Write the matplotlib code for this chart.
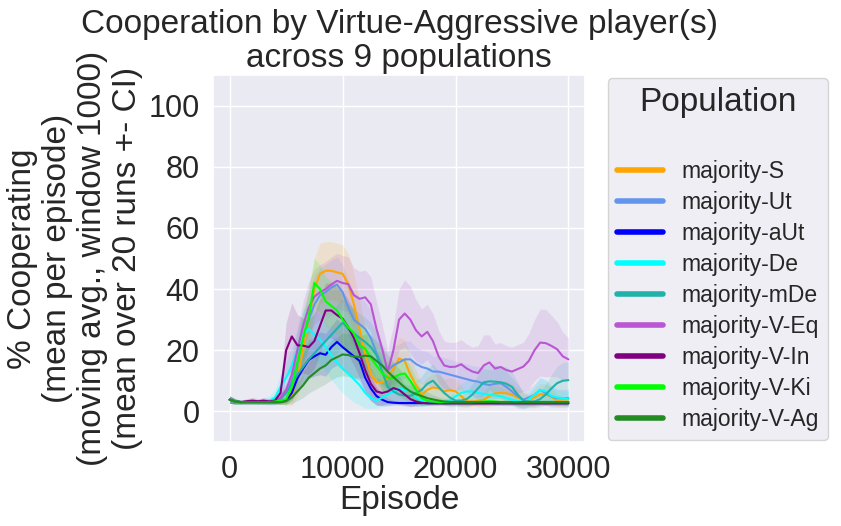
import numpy as np
import matplotlib
matplotlib.use('Agg')
import matplotlib.pyplot as plt
import seaborn as sns

# episodes sampled every 500
episodes = np.arange(0, 30001, 500)

populations = ['majority-S', 'majority-Ut', 'majority-aUt', 'majority-De', 'majority-mDe',
               'majority-V-Eq', 'majority-V-In', 'majority-V-Ki', 'majority-V-Ag']
colors = ['orange', 'cornflowerblue', 'blue', 'cyan', 'lightseagreen',
          'mediumorchid', 'purple', 'lime', 'forestgreen']

# mean % cooperating
coop_S = [3.8, 3.2, 3.0, 3.0, 3.0, 2.9, 2.9, 2.9, 3.0, 3.0,
          3.3, 5.0, 11, 20, 30, 40, 45, 46, 46, 45.5,
          45, 41.6, 35, 27, 19, 12, 9.5, 9.5, 11, 14,
          17.3, 16.5, 12, 8.6, 5.4, 7, 7.8, 7.5, 6.5, 7,
          6.5, 5, 3.3, 3.2, 3.4, 3.8, 5, 5.9, 6, 5.9,
          5.5, 4.5, 3.8, 3.6, 4.5, 5.6, 5.5, 4.8, 3.5, 3.2,
          3.2]
coop_Ut = [3.8, 3.2, 3.0, 3.0, 3.0, 3.0, 3.0, 3.0, 3.2, 4.0,
           6, 10, 16, 24, 30, 35, 38, 39, 40.5, 41.5,
           39, 34, 30, 28.5, 27, 24, 19, 15, 13.5, 15,
           16, 17, 17, 15.5, 14.5, 14, 13, 13, 12.5, 12,
           11.5, 11, 10.5, 10, 9.7, 9, 8.6, 9, 9.2, 8,
           6.5, 5, 3.8, 4.5, 5.4, 7, 6, 4.8, 4.3, 4.2,
           4.3]
coop_aUt = [3.8, 3.2, 3.0, 3.0, 3.0, 3.0, 3.0, 3.0, 3.0, 3.0,
            3.5, 6, 10.8, 14, 16.8, 18, 19, 18.5, 21, 22.7,
            21, 19.5, 18, 16.5, 11, 7.5, 5, 3.8, 3.0, 2.8,
            2.7, 2.7, 2.7, 2.7, 2.7, 2.7, 2.7, 2.7, 2.7, 2.7,
            2.7, 2.7, 2.7, 2.7, 2.7, 2.7, 2.7, 2.7, 2.7, 2.7,
            2.7, 2.7, 2.7, 2.7, 2.7, 2.7, 2.7, 2.7, 2.7, 2.7,
            2.7]
coop_De = [3.8, 3.2, 3.0, 3.0, 3.0, 3.0, 3.3, 3.5, 4.5, 8,
           11, 15, 20, 25, 27, 25, 23.5, 21, 18.4, 16,
           14, 12.3, 10.5, 8.6, 6, 4.5, 3.5, 4.5, 5.5, 6.5,
           7.6, 7, 6.5, 4.5, 3.5, 3.2, 3, 3, 3, 3.5,
           4.9, 6, 6.5, 6.5, 6, 5.7, 5.4, 5.2, 4.9, 4.3,
           3.8, 3.3, 3, 4, 5.4, 7, 6.5, 5, 4.5, 4.3,
           4]
coop_mDe = [3.8, 3.2, 3.0, 3.0, 3.0, 3.0, 3.0, 3.0, 3.2, 4,
            6, 9, 12, 14.5, 17, 19, 21, 23, 25, 27,
            29, 27, 25.5, 24, 22.7, 21, 18.4, 13, 8, 6.5,
            5.5, 5.2, 5, 6, 7, 9, 10, 8, 6, 4.5,
            3.5, 3.5, 4, 5.5, 7.5, 9.5, 9.8, 9.7, 9.5, 9,
            8, 5.5, 3.5, 3.2, 3.2, 4, 5.5, 7.5, 9.2, 10,
            10.2]
coop_VEq = [3.8, 3.2, 3.0, 3.0, 3.0, 3.0, 3.2, 3.3, 3.5, 4.5,
            7, 12, 20, 28, 34, 37.5, 39, 40, 41.5, 42.7,
            42, 41.6, 38, 36.8, 37.3, 35, 27, 20.5, 13, 20,
            30, 32, 30, 26.5, 24.5, 26, 23, 18, 15, 14.5,
            14.6, 15.4, 14, 13, 12.5, 15, 16, 14, 14.5, 13.5,
            13, 13.8, 14.6, 16.5, 20, 22.5, 22.3, 21.4, 20.3, 18,
            17]
coop_VIn = [3.8, 3.2, 3.0, 3.3, 3.5, 3.3, 3.5, 3.2, 3.5, 6,
            20, 24.5, 21.6, 21.5, 21, 23, 28, 33, 33, 31.5,
            30.3, 27.5, 24, 19, 13.5, 9, 6.5, 6, 6.5, 7.6,
            7, 5.5, 4, 3.2, 2.8, 2.6, 2.6, 2.6, 2.6, 2.6,
            2.6, 2.6, 2.6, 2.6, 2.6, 2.6, 2.6, 2.6, 2.6, 2.6,
            2.6, 2.6, 2.6, 2.6, 2.6, 2.6, 2.6, 2.6, 2.6, 2.6,
            2.6]
coop_VKi = [3.8, 3.2, 3.0, 3.0, 3.0, 3.0, 3.0, 3.0, 3.2, 3.5,
            4, 8, 16, 24, 31, 42, 40, 36, 34.5, 33,
            30, 27.5, 25.5, 21.5, 20.5, 17.5, 15, 12.5, 11, 11,
            12, 12.4, 10, 7, 4.3, 3.4, 3.2, 3.0, 3.0, 3.0,
            3.0, 3.0, 3.0, 3.0, 3.1, 3.2, 3.3, 3.2, 3.0, 3.0,
            3.0, 3.0, 3.0, 3.0, 3.0, 3.0, 3.0, 3.0, 3.0, 3.0,
            3.0]
coop_VAg = [3.8, 3.2, 3.0, 3.0, 3.0, 3.0, 3.0, 3.0, 3.0, 3.0,
            3.3, 4.5, 6.5, 8.5, 11, 12.5, 14, 15, 16.8, 17.7,
            18.6, 18.4, 17.9, 17.8, 18.2, 18, 16.5, 15, 13, 11.2,
            9.5, 7.8, 6.5, 5.6, 5, 4.3, 3.9, 3.5, 3.2, 3.1,
            3.0, 3.0, 3.0, 3.0, 3.0, 3.0, 3.0, 3.0, 3.0, 3.0,
            3.0, 3.0, 3.0, 3.0, 3.0, 3.0, 3.0, 3.0, 3.0, 3.0,
            3.0]

# CI half widths
ci_S = [1.2, 0.8, 0.6, 0.6, 0.6, 0.6, 0.6, 0.6, 0.7, 0.8,
        1.2, 3, 6, 9, 10, 10, 10, 9.5, 9.5, 9.5,
        9.5, 10, 10, 9.5, 8.5, 7, 5.5, 5, 5.5, 6.5,
        7, 7, 6, 5, 3.5, 4, 4.5, 4.5, 4, 4,
        4, 3.5, 2, 1.5, 2, 2.5, 3.5, 4, 4, 4,
        3.5, 3, 2.5, 2, 3, 3.5, 3.5, 3, 2, 1.5,
        1.5]
ci_Ut = [1.2, 0.8, 0.6, 0.6, 0.6, 0.6, 0.6, 0.6, 0.8, 1.5,
         3, 5, 7, 8, 9, 9, 9, 9, 9, 9,
         9, 9, 9, 9, 9, 9, 8, 7, 6, 6,
         6, 6, 6, 5.5, 5.5, 5.5, 5, 5, 5, 5,
         5, 5, 5, 5, 5, 5, 5, 5, 5, 5,
         4.5, 4, 3, 3, 3.5, 4, 4, 3.5, 3, 3,
         3]
ci_aUt = [1.2, 0.8, 0.6, 0.6, 0.6, 0.6, 0.6, 0.6, 0.6, 0.7,
          1, 2.5, 4, 5, 6, 6.5, 7, 7, 7, 7.5,
          7.5, 7, 7, 6.5, 5.5, 4, 3, 2, 1.2, 0.8,
          0.6, 0.6, 0.6, 0.6, 0.6, 0.6, 0.6, 0.6, 0.6, 0.6,
          0.6, 0.6, 0.6, 0.6, 0.6, 0.6, 0.6, 0.6, 0.6, 0.6,
          0.6, 0.6, 0.6, 0.6, 0.6, 0.6, 0.6, 0.6, 0.6, 0.6,
          0.6]
ci_De = [1.2, 0.8, 0.6, 0.6, 0.6, 0.8, 1, 1.5, 2.5, 4,
         5, 6, 7, 8, 8, 8, 8, 8, 8, 8,
         8, 8, 7.5, 6.5, 5, 3.5, 2.5, 3, 3.5, 4,
         4.5, 4.5, 4, 3, 2, 1.5, 1.2, 1, 1, 1.5,
         2.5, 3, 3.5, 3.5, 3.5, 3.5, 3, 3, 3, 2.5,
         2, 1.5, 1.2, 2, 3, 4, 4, 3, 2.5, 2.5,
         2.5]
ci_mDe = [1.2, 0.8, 0.6, 0.6, 0.6, 0.6, 0.6, 0.6, 0.8, 1.5,
          2.5, 4, 5, 6, 6.5, 7, 7, 7.5, 7.5, 8,
          8, 8, 8, 8, 8, 8, 7.5, 6.5, 5, 4,
          3.5, 3.5, 3.5, 4, 4.5, 5, 5.5, 5, 4, 3,
          2, 2, 2.5, 3.5, 4.5, 5.5, 5.5, 5.5, 5.5, 5.5,
          5, 4, 2.5, 2, 2, 2.5, 3.5, 4.5, 5.5, 6,
          6]
ci_VEq = [1.2, 0.8, 0.6, 0.6, 0.6, 0.6, 0.8, 0.8, 1, 1.5,
          3, 5, 7, 8, 8.5, 9, 9, 9, 9, 9,
          9, 9, 9, 9, 9, 9, 9, 8, 7, 8,
          10, 11, 11, 10, 9, 9, 9, 8.5, 8, 8,
          8, 8, 8, 8, 9, 10, 9, 8, 8, 8,
          8, 8, 8, 9, 10, 11, 11, 10, 9, 8,
          7]
ci_VIn = [1.2, 0.8, 0.6, 0.8, 1, 0.8, 1, 0.8, 1, 3,
          9, 11, 10, 9, 9, 9, 9, 9, 9, 9,
          9, 9, 9, 8, 7, 5.5, 4.5, 4, 4, 4.5,
          4.5, 3.5, 2.5, 1.5, 1, 0.6, 0.6, 0.6, 0.6, 0.6,
          0.6, 0.6, 0.6, 0.6, 0.6, 0.6, 0.6, 0.6, 0.6, 0.6,
          0.6, 0.6, 0.6, 0.6, 0.6, 0.6, 0.6, 0.6, 0.6, 0.6,
          0.6]
ci_VKi = [1.2, 0.8, 0.6, 0.6, 0.6, 0.6, 0.6, 0.6, 0.7, 1,
          2, 4, 7, 9, 9, 8, 8, 8, 8, 8,
          8, 8, 8, 7.5, 7, 6.5, 6, 5.5, 5, 5,
          5, 5, 5, 4, 2.5, 1.5, 1, 0.8, 0.7, 0.7,
          0.7, 0.7, 0.7, 0.7, 0.7, 0.7, 0.7, 0.7, 0.7, 0.7,
          0.7, 0.7, 0.7, 0.7, 0.7, 0.7, 0.7, 0.7, 0.7, 0.7,
          0.7]
ci_VAg = [1.2, 0.8, 0.6, 0.6, 0.6, 0.6, 0.6, 0.6, 0.6, 0.7,
          1, 2, 3, 4, 5, 5.5, 6, 6, 6.5, 6.5,
          7, 7, 7, 7, 7, 7, 6.5, 6, 5.5, 5,
          4.5, 4, 3.5, 3, 2.5, 2, 1.5, 1.2, 1, 0.8,
          0.7, 0.7, 0.7, 0.7, 0.7, 0.7, 0.7, 0.7, 0.7, 0.7,
          0.7, 0.7, 0.7, 0.7, 0.7, 0.7, 0.7, 0.7, 0.7, 0.7,
          0.7]

means = [coop_S, coop_Ut, coop_aUt, coop_De, coop_mDe, coop_VEq, coop_VIn, coop_VKi, coop_VAg]
cis = [ci_S, ci_Ut, ci_aUt, ci_De, ci_mDe, ci_VEq, ci_VIn, ci_VKi, ci_VAg]

sns.set_theme(style='darkgrid')
plt.rcParams['font.family'] = ['Liberation Sans', 'DejaVu Sans']

fig = plt.figure(figsize=(8.41, 5.26), dpi=100)
ax = fig.add_axes([0.253, 0.160, 0.443, 0.697])

for name, col, m, c in zip(populations, colors, means, cis):
    m = np.array(m)
    c = np.array(c)
    ax.plot(episodes, m, color=col, linewidth=1.5, label=name)
    ax.fill_between(episodes, m - c, m + c, color=col, alpha=0.15, linewidth=0)

ax.set_ylim(-10, 110)
ax.set_yticks([0, 20, 40, 60, 80, 100])
ax.set_xticks([0, 10000, 20000, 30000])
ax.tick_params(labelsize=22)
ax.set_xlabel('Episode', fontsize=24, labelpad=0)
ax.set_ylabel('% Cooperating\n(mean per episode)\n(moving avg., window 1000)\n(mean over 20 runs +- CI)',
              fontsize=24, linespacing=1.17)
ax.set_title('Cooperation by Virtue-Aggressive player(s)\nacross 9 populations', fontsize=24,
             linespacing=1.13)

leg = ax.legend(title='Population', loc='upper left', bbox_to_anchor=(1.06, 0.992),
                borderaxespad=0, fontsize=16.5, title_fontsize=24, labelspacing=0.35)
for line in leg.get_lines():
    line.set_linewidth(4)
# wider gap between legend title and entries
leg._legend_box.sep = 30

fig.savefig('out.png', dpi=100)
